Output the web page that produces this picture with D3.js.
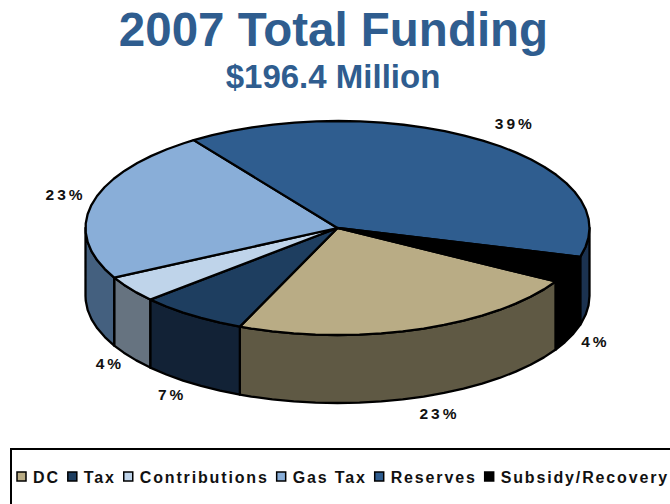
<!DOCTYPE html>
<html>
<head>
<meta charset="utf-8">
<script src="https://cdn.jsdelivr.net/npm/d3@7"></script>
<style>
html, body { margin: 0; padding: 0; background: #fff; }
svg { display: block; font-family: "Liberation Sans", Arial, sans-serif; }
</style>
</head>
<body>
<svg id="chart" width="670" height="504"></svg>
<script>
// Funding sources and their share of the total, in percent
const categories = ["DC", "Tax", "Contributions", "Gas Tax", "Reserves", "Subsidy/Recovery"];
const shares = [23, 7, 4, 23, 39, 4];
const titleText = "2007 Total Funding";
const subtitleText = "$196.4 Million";

const topColors = ["#b9ac85", "#1e3e60", "#bfd4ea", "#89aed8", "#2f5d8f", "#000000"];
const wallColors = ["#5f5944", "#122236", "#667380", "#44607f", "#1b3250", "#000000"];

// Label nudges from the rim anchor point, in pixels
const labelDx = [12, -2, 4, 2, 14, -2];
const labelDy = [22, 17, 12, 18, 8, 10];

const width = 670, height = 504;
const cx = 337.5, cy = 228, rx = 252, ry = 107, depth = 68;
const firstAngle = 120 * Math.PI / 180;
const titleBlue = "#2f5d8f";

const svg = d3.select("#chart");

// The tilted disc is a unit circle projected through two linear scales
const sx = d3.scaleLinear().domain([-1, 1]).range([cx - rx, cx + rx]);
const sy = d3.scaleLinear().domain([-1, 1]).range([cy - ry, cy + ry]);

const pie = d3.pie().value(d => d).sort(null)
  .startAngle(firstAngle).endAngle(firstAngle + 2 * Math.PI);
const slices = pie(shares);

const rim = a => [sx(Math.sin(a)), sy(-Math.cos(a))];
const line = d3.line();

// Points along the rim; the coarse step gives the rim its faceted outline
function rimPoints(a0, a1) {
  const step = 5 * Math.PI / 180;
  const pts = [];
  for (let a = a0; a < a1 - 1e-6; a += step) pts.push(rim(a));
  pts.push(rim(a1));
  return pts;
}

// Side walls show only along the near half of the disc (90 to 270 degrees)
const nearStart = Math.PI / 2, nearEnd = 3 * Math.PI / 2;
const wallSpans = slices.flatMap((s, i) => {
  const spans = [];
  for (const turn of [0, 2 * Math.PI]) {
    const a0 = Math.max(s.startAngle, nearStart + turn);
    const a1 = Math.min(s.endAngle, nearEnd + turn);
    if (a1 > a0) spans.push({ a0, a1, i });
  }
  return spans;
});

svg.append("g").selectAll("path").data(wallSpans).join("path")
  .attr("d", d => {
    const upper = rimPoints(d.a0, d.a1);
    const lower = upper.map(([x, y]) => [x, y + depth]).reverse();
    return line(upper.concat(lower)) + "Z";
  })
  .attr("fill", d => wallColors[d.i])
  .attr("stroke", "#000").attr("stroke-width", 2.3).attr("stroke-linejoin", "round");

svg.append("g").selectAll("path").data(slices).join("path")
  .attr("d", s => line([[cx, cy]].concat(rimPoints(s.startAngle, s.endAngle))) + "Z")
  .attr("fill", (s, i) => topColors[i])
  .attr("stroke", "#000").attr("stroke-width", 2.3).attr("stroke-linejoin", "round");

// Percentage labels sit just outside the rim, below the wall on the near side
svg.append("g").selectAll("text").data(slices).join("text")
  .attr("x", (s, i) => {
    const mid = (s.startAngle + s.endAngle) / 2;
    return rim(mid)[0] + Math.sin(mid) * 30 + labelDx[i];
  })
  .attr("y", (s, i) => {
    const mid = (s.startAngle + s.endAngle) / 2;
    const [, y] = rim(mid);
    return y + (Math.cos(mid) < 0 ? depth : 0) + labelDy[i] - (Math.cos(mid) >= 0 ? 20 : 0);
  })
  .attr("text-anchor", "middle")
  .attr("font-size", 15.5).attr("font-weight", "bold").attr("letter-spacing", 3)
  .attr("fill", "#111")
  .text(s => s.data + "%");

svg.append("text").attr("x", 333.5).attr("y", 46)
  .attr("text-anchor", "middle").attr("font-size", 47.5).attr("font-weight", "bold")
  .attr("fill", titleBlue).text(titleText);
svg.append("text").attr("x", 333).attr("y", 88)
  .attr("text-anchor", "middle").attr("font-size", 33).attr("font-weight", "bold")
  .attr("fill", titleBlue).text(subtitleText);

// Legend box runs off the right and bottom of the page
svg.append("rect").attr("x", 11).attr("y", 449).attr("width", 700).attr("height", 100)
  .attr("fill", "none").attr("stroke", "#000").attr("stroke-width", 2);

const legend = svg.append("g");
let cursor = 17;
categories.forEach((name, i) => {
  legend.append("rect")
    .attr("x", cursor).attr("y", 472).attr("width", 9).attr("height", 9)
    .attr("fill", topColors[i]).attr("stroke", "#000").attr("stroke-width", 1.5);
  const label = legend.append("text")
    .attr("x", cursor + 16).attr("y", 482.5)
    .attr("font-size", 16).attr("font-weight", "bold").attr("letter-spacing", 1.85)
    .attr("fill", "#111").text(name);
  cursor += 16 + label.node().getComputedTextLength() + 8;
});
</script>
</body>
</html>
